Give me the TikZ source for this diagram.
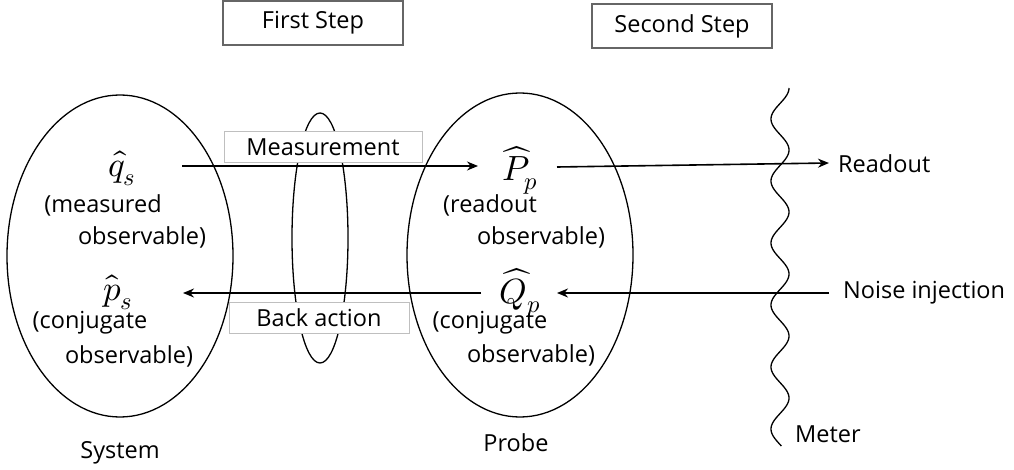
\documentclass[tikz,border=0pt]{standalone}
\usetikzlibrary{shapes.geometric,arrows.meta}
\usepackage{fontspec}
\setmainfont{Open Sans}
\usepackage{unicode-math}
\setmathfont{Latin Modern Math}
\begin{document}
\begin{tikzpicture}[x=1pt,y=-1pt,
  lab/.style={font=\fontsize{23.5}{26}\selectfont, inner sep=0pt},
  mth/.style={font=\fontsize{35}{38}\selectfont, inner sep=0pt},
  stepbox/.style={draw=black!60, line width=1.3pt, minimum width=180pt, minimum height=44pt, font=\fontsize{23.5}{26}\selectfont},
  tagbox/.style={draw=black!25, line width=0.8pt, fill=white, minimum height=31pt, font=\fontsize{23.5}{26}\selectfont},
  ell/.style={draw, line width=1.3pt},
  arr/.style={line width=1.6pt, -{Stealth[length=11pt,width=9pt]}}]
\useasboundingbox (0,0) rectangle (1014,470);
% ellipses
\node[ell, ellipse, minimum width=226pt, minimum height=322pt, inner sep=0pt] (sys) at (120,256) {};
\node[ell, ellipse, minimum width=226pt, minimum height=324pt, inner sep=0pt] (probe) at (520,255) {};
\node[ell, ellipse, minimum width=56pt, minimum height=250pt, inner sep=0pt] (inter) at (320,238) {};
% step boxes
\node[stepbox] (first) at (313,23) {First Step};
\node[stepbox] (second) at (682,26) {Second Step};
% math
\node[mth] (qs) at (122,168) {$\hat{q}_s$};
\node[mth] (ps) at (118,292) {$\hat{p}_s$};
\node[mth] (Pp) at (520,170) {$\widehat{P}_p$};
\node[mth] (Qp) at (520,293) {$\widehat{Q}_p$};
% descriptions
\node[lab] (d1) at (103,205) {(measured};
\node[lab] (d2) at (142,237) {observable)};
\node[lab] (d3) at (90,323) {(conjugate};
\node[lab] (d4) at (129,356) {observable)};
\node[lab] (d5) at (490,205) {(readout};
\node[lab] (d6) at (541,237) {observable)};
\node[lab] (d7) at (490,323) {(conjugate};
\node[lab] (d8) at (531,355) {observable)};
\node[lab] (slab) at (120,453) {System};
\node[lab] (plab) at (516,443) {Probe};
\node[lab, anchor=west] (meter) at (795,434) {Meter};
\node[lab, anchor=west] (readout) at (838,164) {Readout};
\node[lab, anchor=west] (noise) at (843,293) {Noise injection};
% meter wavy line
\draw[line width=1.3pt] plot[domain=0:358, samples=240, smooth] ({780+9*sin(\x*5.806+90)},{\x+88});
% arrows
\coordinate (m1) at (182,166);
\coordinate (m2) at (478,166);
\coordinate (r1) at (557,167);
\coordinate (r2) at (829,163);
\coordinate (b1) at (481,293);
\coordinate (b2) at (183,293);
\coordinate (n1) at (829,293);
\coordinate (n2) at (557,293);
\draw[arr] (m1) -- (m2);
\draw[arr] (r1) -- (r2);
\draw[arr] (b1) -- (b2);
\draw[arr] (n1) -- (n2);
% tag boxes
\node[tagbox, minimum width=198pt] (meas) at (323,147) {Measurement};
\node[tagbox, minimum width=180pt] (back) at (319,318) {Back action};
\end{tikzpicture}
\end{document}
